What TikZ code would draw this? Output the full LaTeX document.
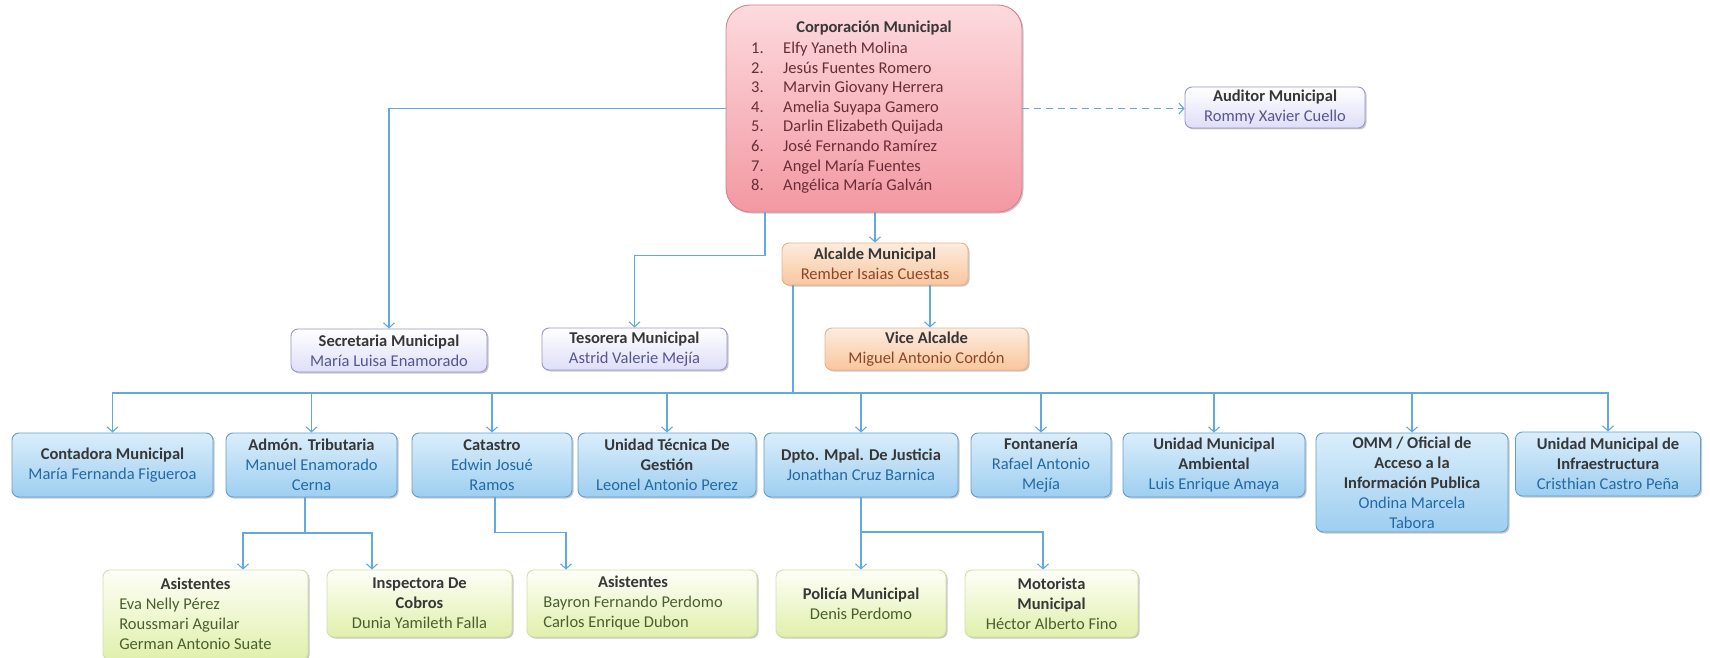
\documentclass[tikz,border=0pt]{standalone}
\usepackage{fontspec}
\setmainfont{Carlito}
\usetikzlibrary{arrows.meta,shadows}

\definecolor{lineblue}{RGB}{98,170,222}
\definecolor{titlegray}{RGB}{55,55,55}
\definecolor{corptop}{RGB}{252,218,222}
\definecolor{corpbot}{RGB}{243,152,162}
\definecolor{corpdraw}{RGB}{214,128,138}
\definecolor{corpname}{RGB}{105,45,55}
\definecolor{lavbot}{RGB}{222,222,248}
\definecolor{lavdraw}{RGB}{150,150,205}
\definecolor{lavname}{RGB}{85,85,150}
\definecolor{oratop}{RGB}{253,236,222}
\definecolor{orabot}{RGB}{249,198,158}
\definecolor{oradraw}{RGB}{236,178,134}
\definecolor{oraname}{RGB}{140,70,40}
\definecolor{blutop}{RGB}{218,238,251}
\definecolor{blubot}{RGB}{158,206,240}
\definecolor{bludraw}{RGB}{98,158,210}
\definecolor{bluname}{RGB}{35,105,165}
\definecolor{grntop}{RGB}{254,254,248}
\definecolor{grnbot}{RGB}{224,240,172}
\definecolor{grndraw}{RGB}{208,224,168}
\definecolor{grnname}{RGB}{75,95,45}

\newcommand\nmC[1]{\textcolor{corpname}{#1}}
\newcommand\nmL[1]{\textcolor{lavname}{#1}}
\newcommand\nmO[1]{\textcolor{oraname}{#1}}
\newcommand\nmB[1]{\textcolor{bluname}{#1}}
\newcommand\nmG[1]{\textcolor{grnname}{#1}}

\tikzset{
  link/.style={draw=lineblue, line width=1.1pt, -{Straight Barb[length=5pt,width=11pt]}},
  plainlink/.style={draw=lineblue, line width=1.1pt},
  orgbox/.style={rectangle, rounded corners=7pt, line width=0.9pt, align=center,
    inner sep=2pt, font=\fontsize{16.5}{20}\selectfont, text=titlegray,
    drop shadow={shadow xshift=1.5pt, shadow yshift=-1.5pt, opacity=0.22, fill=black}},
  corpbox/.style={orgbox, rounded corners=24pt, top color=corptop, bottom color=corpbot, draw=corpdraw},
  lavbox/.style={orgbox, top color=white, bottom color=lavbot, draw=lavdraw},
  orabox/.style={orgbox, top color=oratop, bottom color=orabot, draw=oradraw},
  blubox/.style={orgbox, top color=blutop, bottom color=blubot, draw=bludraw},
  grnbox/.style={orgbox, top color=grntop, bottom color=grnbot, draw=grndraw},
}

\begin{document}
\begin{tikzpicture}[x=1pt,y=-1pt]
\fill[white] (0,0) rectangle (1710,658);
\useasboundingbox (0,0) rectangle (1710,658);

% Corporacion
\node[corpbox, minimum width=296pt, minimum height=207pt] (corp) at (874,108.5) {};
\node[font=\fontsize{16.5}{19.6}\selectfont\bfseries, text=titlegray, inner sep=0] (corpT) at (874,28) {Corporación Municipal};
\node[font=\fontsize{16.5}{19.6}\selectfont, text=corpname, anchor=north west, inner sep=0] (corpL) at (751,39.5)
 {\begin{tabular}{@{}p{32pt}@{}l@{}}
 1. & Elfy Yaneth Molina\\
 2. & Jesús Fuentes Romero\\
 3. & Marvin Giovany Herrera\\
 4. & Amelia Suyapa Gamero\\
 5. & Darlin Elizabeth Quijada\\
 6. & José Fernando Ramírez\\
 7. & Angel María Fuentes\\
 8. & Angélica María Galván
 \end{tabular}};

% Level 2
\node[lavbox, minimum width=180pt, minimum height=41pt] (aud) at (1275,107.5) {\textbf{Auditor Municipal}\\\nmL{Rommy Xavier Cuello}};
\node[lavbox, minimum width=196pt, minimum height=43pt] (sec) at (389,350.5) {\textbf{Secretaria Municipal}\\\nmL{María Luisa Enamorado}};
\node[lavbox, minimum width=185pt, minimum height=42pt] (tes) at (634.5,349) {\textbf{Tesorera Municipal}\\\nmL{Astrid Valerie Mejía}};
\node[orabox, minimum width=186pt, minimum height=42pt] (alc) at (875,264) {\textbf{Alcalde Municipal}\\\nmO{Rember Isaias Cuestas}};
\node[orabox, minimum width=203pt, minimum height=42pt] (vice) at (926.5,349) {\textbf{Vice Alcalde}\\\nmO{Miguel Antonio Cordón}};

% Level 3
\node[blubox, minimum width=201pt, minimum height=64pt] (cont) at (112.5,465) {\textbf{Contadora Municipal}\\\nmB{María Fernanda Figueroa}};
\node[blubox, minimum width=171pt, minimum height=64pt] (adm) at (311.5,465) {\textbf{Admón. Tributaria}\\\nmB{Manuel Enamorado}\\\nmB{Cerna}};
\node[blubox, minimum width=160pt, minimum height=64pt] (cat) at (492,465) {\textbf{Catastro}\\\nmB{Edwin Josué}\\\nmB{Ramos}};
\node[blubox, minimum width=178pt, minimum height=64pt] (utg) at (667,465) {\textbf{Unidad Técnica De}\\\textbf{Gestión}\\\nmB{Leonel Antonio Perez}};
\node[blubox, minimum width=194pt, minimum height=64pt] (dpto) at (861,465) {\textbf{Dpto. Mpal. De Justicia}\\\nmB{Jonathan Cruz Barnica}};
\node[blubox, minimum width=140pt, minimum height=64pt] (font) at (1041,465) {\textbf{Fontanería}\\\nmB{Rafael Antonio}\\\nmB{Mejía}};
\node[blubox, minimum width=182pt, minimum height=64pt] (uma) at (1214,465) {\textbf{Unidad Municipal}\\\textbf{Ambiental}\\\nmB{Luis Enrique Amaya}};
\node[blubox, minimum width=192pt, minimum height=99pt] (omm) at (1412,482.5) {\textbf{OMM / Oficial de}\\\textbf{Acceso a la}\\\textbf{Información Publica}\\\nmB{Ondina Marcela}\\\nmB{Tabora}};
\node[blubox, minimum width=185pt, minimum height=64pt] (umi) at (1608,464) {\textbf{Unidad Municipal de}\\\textbf{Infraestructura}\\\nmB{Cristhian Castro Peña}};

% Level 4
\node[grnbox, minimum width=205pt, minimum height=90pt] (asis1) at (205.5,615)
 {\begin{tabular}{@{}l@{}}\multicolumn{1}{c}{\textbf{Asistentes}}\\\nmG{Eva Nelly Pérez}\\\nmG{Roussmari Aguilar}\\\nmG{German Antonio Suate}\end{tabular}\hspace*{20pt}};
\node[grnbox, minimum width=185pt, minimum height=67pt] (insp) at (419.5,603.5) {\textbf{Inspectora De}\\\textbf{Cobros}\\\nmG{Dunia Yamileth Falla}};
\node[grnbox, minimum width=230pt, minimum height=67pt] (asis2) at (642,603.5)
 {\begin{tabular}{@{}l@{}}\multicolumn{1}{c}{\textbf{Asistentes}}\\\nmG{Bayron Fernando Perdomo}\\\nmG{Carlos Enrique Dubon}\end{tabular}\hspace*{18pt}};
\node[grnbox, minimum width=170pt, minimum height=67pt] (pol) at (861,603.5) {\textbf{Policía Municipal}\\\nmG{Denis Perdomo}};
\node[grnbox, minimum width=173pt, minimum height=67pt] (mot) at (1051.5,603.5) {\textbf{Motorista}\\\textbf{Municipal}\\\nmG{Héctor Alberto Fino}};

% Connectors
\draw[link] (corp.west) -| (sec.north);
\draw[link, dash pattern=on 7pt off 5pt] (corp.east) -- (aud.west |- corp.east);
\draw[link] ([xshift=-109pt]corp.south) -- ++(0,43) -| (tes.north);
\draw[link] (corp.south -| alc.north) -- (alc.north);
\draw[link] ([xshift=55pt]alc.south) -- ([xshift=3.5pt]vice.north);

\coordinate (bus) at (793,393);
\draw[plainlink] ([xshift=-82pt]alc.south) -- (bus);
\foreach \n in {cont,adm,cat,utg,dpto,font,uma,omm,umi}
  \draw[link] (bus) -| (\n.north);

\coordinate (admJ) at (305,533);
\draw[plainlink] ([xshift=-6.5pt]adm.south) -- (admJ);
\draw[link] (admJ) -| ([xshift=37.5pt]asis1.north);
\draw[link] (admJ) -| ([xshift=-47.5pt]insp.north);

\draw[link] ([xshift=3pt]cat.south) -- ++(0,35) -| ([xshift=-76pt]asis2.north);

\coordinate (dpJ) at (861,532);
\draw[link] (dpto.south) -- (pol.north);
\draw[link] (dpJ) -| ([xshift=-8.5pt]mot.north);
\end{tikzpicture}
\end{document}
